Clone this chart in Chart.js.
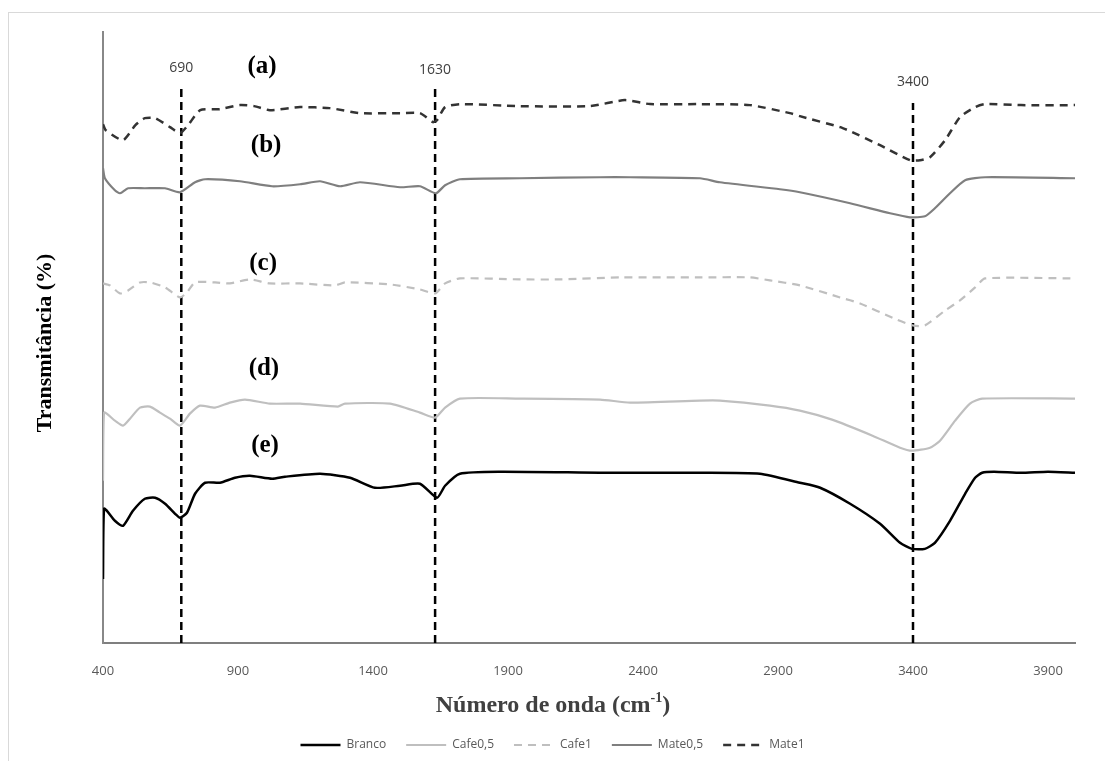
<!DOCTYPE html>
<html>
<head>
<meta charset="utf-8">
<script src="https://cdn.jsdelivr.net/npm/chart.js@4.4.0/dist/chart.umd.min.js"></script>
<style>
  html, body { margin: 0; padding: 0; background: #fff; }
  #wrap { position: relative; width: 1105px; height: 761px; }
</style>
</head>
<body>
<div id="wrap"><canvas id="ftir" width="1105" height="761"></canvas></div>
<script>
// eixo x (numero de onda)
const tickValues = [400, 900, 1400, 1900, 2400, 2900, 3400, 3900];

// picos marcados
const peakLines = [690, 1630, 3400];
const peakTops = [55.7, 55.7, 53.9];
const peakLabels = ['690', '1630', '3400'];

const curveLabels = ['(a)', '(b)', '(c)', '(d)', '(e)'];

// espectros [numero de onda, transmitancia]
const branco = [[400,6.4],[404,13.4],[444,12.2],[474,11.7],[511,13.2],[555,14.4],[593,14.5],[630,13.9],[667,12.9],[685,12.5],[711,13.0],[741,14.9],[778,16.0],[833,16.0],[889,16.5],[944,16.7],[1026,16.4],[1074,16.6],[1204,16.9],[1315,16.5],[1407,15.5],[1500,15.7],[1574,15.9],[1637,14.5],[1667,15.7],[1722,16.9],[1870,17.1],[2241,17.0],[2389,17.0],[2611,17.0],[2833,16.9],[2981,16.0],[3056,15.5],[3167,13.9],[3278,11.9],[3352,10.0],[3396,9.4],[3444,9.4],[3481,10.0],[3537,12.2],[3593,14.9],[3630,16.5],[3656,17.0],[3700,17.1],[3800,17.0],[3900,17.1],[4000,17.0]];

const cafe05 = [[400,16.2],[404,23.0],[444,22.2],[474,21.7],[500,22.4],[537,23.5],[574,23.6],[611,23.0],[648,22.4],[685,21.7],[722,22.9],[759,23.7],[815,23.5],[870,24.0],[926,24.3],[1018,23.9],[1130,23.9],[1270,23.6],[1296,23.9],[1463,23.9],[1574,23.0],[1630,22.5],[1667,23.5],[1722,24.4],[1944,24.4],[2241,24.3],[2352,24.0],[2611,24.2],[2685,24.2],[2870,23.7],[2981,23.2],[3100,22.3],[3250,20.7],[3352,19.5],[3396,19.2],[3463,19.5],[3500,20.2],[3556,22.2],[3611,23.9],[3656,24.4],[4000,24.4]];

const cafe1 = [[400,35.9],[426,35.7],[463,34.9],[493,35.2],[537,36.0],[574,36.0],[630,35.5],[685,34.5],[711,35.0],[741,36.0],[815,36.0],[870,35.9],[944,36.3],[1018,35.9],[1130,35.9],[1259,35.7],[1296,36.0],[1463,35.8],[1574,35.3],[1630,34.9],[1667,35.9],[1722,36.4],[1944,36.3],[2093,36.3],[2315,36.5],[2611,36.5],[2796,36.5],[2870,36.2],[2981,35.7],[3130,34.5],[3204,33.9],[3330,32.4],[3400,31.7],[3444,31.7],[3519,33.2],[3574,34.2],[3630,35.5],[3667,36.4],[4000,36.4]];

const mate05 = [[400,47.4],[407,46.4],[444,45.2],[463,44.9],[493,45.4],[555,45.4],[630,45.4],[685,45.0],[741,46.0],[778,46.3],[907,46.1],[1026,45.6],[1130,45.8],[1204,46.1],[1278,45.6],[1352,46.0],[1500,45.5],[1574,45.6],[1633,44.9],[1667,45.7],[1722,46.3],[1944,46.4],[2241,46.5],[2352,46.5],[2611,46.4],[2685,46.0],[2907,45.3],[2981,45.0],[3167,43.9],[3315,42.9],[3389,42.5],[3444,42.6],[3481,43.4],[3537,44.9],[3593,46.2],[3667,46.5],[4000,46.4]];

const mate1 = [[400,51.8],[410,51.2],[474,50.2],[520,51.7],[555,52.4],[593,52.4],[648,51.5],[685,50.9],[715,51.7],[760,53.2],[833,53.3],[907,53.7],[960,53.6],[1018,53.2],[1130,53.5],[1240,53.4],[1352,52.9],[1500,52.9],[1574,52.9],[1622,52.0],[1637,52.2],[1667,53.5],[1722,53.8],[1944,53.6],[2204,53.6],[2333,54.2],[2426,53.8],[2611,53.8],[2796,53.7],[2944,52.9],[2981,52.6],[3130,51.5],[3167,51.1],[3278,49.7],[3389,48.2],[3426,48.2],[3463,48.5],[3519,50.2],[3574,52.5],[3630,53.5],[3667,53.8],[3800,53.7],[4000,53.7]];

function pts(arr) {
  return arr.map(function (p) { return { x: p[0], y: p[1] }; });
}

const lineDatasets = peakLines.map(function (w, i) {
  return {
    label: 'pico' + peakLabels[i],
    data: [{ x: w, y: 0 }, { x: w, y: peakTops[i] }],
    borderColor: '#000',
    borderWidth: 2.5,
    borderDash: [8, 5],
    pointRadius: 0,
    tension: 0
  };
});

const serif = '"Liberation Serif", "Times New Roman", serif';

// textos: rotulos das curvas, picos e titulos dos eixos
const textPlugin = {
  id: 'textos',
  beforeDraw: function (chart) {
    const ctx = chart.ctx;
    ctx.save();
    ctx.strokeStyle = '#d9d9d9';
    ctx.lineWidth = 1;
    ctx.strokeRect(8.5, 12.5, 1300, 900);
    ctx.restore();
  },
  afterDraw: function (chart) {
    const ctx = chart.ctx;
    const xs = chart.scales.x;
    const ys = chart.scales.y;
    const area = chart.chartArea;
    ctx.save();

    // rotulos (a)-(e)
    const curvePos = [[989, 57.6], [1004, 49.7], [993, 37.9], [996, 27.4], [1000, 19.7]];
    ctx.font = 'bold 25px ' + serif;
    ctx.fillStyle = '#000';
    ctx.textAlign = 'center';
    ctx.textBaseline = 'middle';
    curveLabels.forEach(function (t, i) {
      ctx.fillText(t, xs.getPixelForValue(curvePos[i][0]), ys.getPixelForValue(curvePos[i][1]));
    });

    // numeros dos picos
    const peakLabelY = [57.4, 57.2, 56.0];
    ctx.font = '14px "Open Sans", sans-serif';
    ctx.fillStyle = '#404040';
    peakLabels.forEach(function (t, i) {
      ctx.fillText(t, xs.getPixelForValue(peakLines[i]), ys.getPixelForValue(peakLabelY[i]));
    });

    // titulo eixo y
    ctx.save();
    ctx.translate(45, 343);
    ctx.rotate(-Math.PI / 2);
    ctx.font = 'bold 22px ' + serif;
    ctx.fillStyle = '#000';
    ctx.fillText('Transmitância (%)', 0, 0);
    ctx.restore();

    // titulo eixo x com sobrescrito
    const main = 'Número de onda (cm';
    const sup = '-1';
    const end = ')';
    const bigFont = 'bold 24px ' + serif;
    const smallFont = 'bold 14px ' + serif;
    ctx.font = bigFont;
    const w1 = ctx.measureText(main).width;
    const w3 = ctx.measureText(end).width;
    ctx.font = smallFont;
    const w2 = ctx.measureText(sup).width;
    const total = w1 + w2 + w3;
    const x0 = 553 - total / 2;
    const y0 = area.bottom + 63;
    ctx.textAlign = 'left';
    ctx.font = bigFont;
    ctx.fillText(main, x0, y0);
    ctx.font = smallFont;
    ctx.fillText(sup, x0 + w1, y0 - 8);
    ctx.font = bigFont;
    ctx.fillText(end, x0 + w1 + w2, y0);
    ctx.restore();
  }
};

const ctx = document.getElementById('ftir');

new Chart(ctx, {
  type: 'line',
  data: {
    datasets: [
      { label: 'Branco', data: pts(branco), borderColor: '#000000', borderWidth: 2.5 },
      { label: 'Cafe0,5', data: pts(cafe05), borderColor: '#bfbfbf', borderWidth: 2.2 },
      { label: 'Cafe1', data: pts(cafe1), borderColor: '#bfbfbf', borderWidth: 2.2, borderDash: [8, 6] },
      { label: 'Mate0,5', data: pts(mate05), borderColor: '#7f7f7f', borderWidth: 2.2 },
      { label: 'Mate1', data: pts(mate1), borderColor: '#333333', borderWidth: 2.5, borderDash: [8, 6] }
    ].map(function (d) {
      d.pointRadius = 0;
      d.tension = 0.2;
      d.fill = false;
      return d;
    }).concat(lineDatasets)
  },
  options: {
    responsive: false,
    animation: false,
    layout: { padding: { left: 30, right: 30, top: 32, bottom: 0 } },
    plugins: {
      tooltip: { enabled: false },
      legend: {
        position: 'bottom',
        labels: {
          filter: function (item) { return item.datasetIndex < 5; },
          generateLabels: function (chart) {
            return Chart.defaults.plugins.legend.labels.generateLabels(chart).map(function (item) {
              const ds = chart.data.datasets[item.datasetIndex];
              item.lineDash = ds.borderDash || [];
              item.lineWidth = ds.borderWidth;
              item.strokeStyle = ds.borderColor;
              return item;
            });
          },
          usePointStyle: true,
          pointStyle: 'line',
          pointStyleWidth: 40,
          padding: 20,
          color: '#595959',
          font: { family: '"Open Sans", sans-serif', size: 12 }
        }
      }
    },
    scales: {
      x: {
        type: 'linear',
        min: 400,
        max: 4000,
        afterBuildTicks: function (axis) {
          axis.ticks = tickValues.map(function (v) { return { value: v }; });
        },
        afterFit: function (axis) { axis.height = 76; },
        grid: { display: false },
        border: { color: '#7f7f7f', width: 2 },
        ticks: {
          padding: 12,
          maxRotation: 0,
          color: '#595959',
          font: { family: '"Open Sans", sans-serif', size: 13 },
          callback: function (v) { return String(v); }
        }
      },
      y: {
        min: 0,
        max: 61,
        afterFit: function (axis) { axis.width = 73; },
        grid: { display: false },
        border: { color: '#888888', width: 2 },
        ticks: { display: false }
      }
    }
  },
  plugins: [textPlugin]
});
</script>
</body>
</html>
